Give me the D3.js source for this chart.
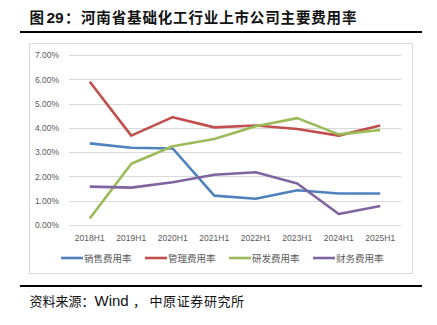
<!DOCTYPE html>
<html>
<head>
<meta charset="utf-8">
<script src="https://cdn.jsdelivr.net/npm/d3@7"></script>
<style>
  html, body { margin: 0; padding: 0; background: #fff; }
  svg { display: block; }
</style>
</head>
<body>
<div id="chart"></div>
<script>
// Half-year periods and expense ratios (%)
const periods = ["2018H1", "2019H1", "2020H1", "2021H1", "2022H1", "2023H1", "2024H1", "2025H1"];
const sellingRate = [3.36, 3.18, 3.15, 1.21, 1.08, 1.43, 1.30, 1.30];
const adminRate   = [5.90, 3.68, 4.44, 4.02, 4.10, 3.95, 3.68, 4.10];
const rdRate      = [0.27, 2.52, 3.24, 3.54, 4.07, 4.40, 3.73, 3.91];
const financeRate = [1.58, 1.54, 1.76, 2.07, 2.17, 1.71, 0.45, 0.78];
const seriesNames = ["销售费用率", "管理费用率", "研发费用率", "财务费用率"];
const yTicks = [0, 1, 2, 3, 4, 5, 6, 7];

const colors = ["#4F81BD", "#C0504D", "#9BBB59", "#8064A2"];
const series = [sellingRate, adminRate, rdRate, financeRate].map((v, i) => ({
  name: seriesNames[i], values: v, color: colors[i]
}));

const W = 437, H = 325;
const svg = d3.select("#chart").append("svg").attr("width", W).attr("height", H);

const cjk = "'Noto Sans CJK SC', 'Noto Sans', sans-serif";
const latin = "'Liberation Sans', Arial, sans-serif";

// Lay out a run of CJK characters one by one at a fixed advance
function spaced(parent, str, x0, y0, step, attrs) {
  const g = parent.append("g");
  g.selectAll("text").data(Array.from(str)).join("text")
    .attr("x", (c, i) => x0 + i * step)
    .attr("y", y0)
    .each(function () {
      const t = d3.select(this);
      Object.entries(attrs).forEach(([k, v]) => t.attr(k, v));
    })
    .text(c => c);
  return g;
}

// Title
const titleAttrs = { "font-family": cjk, "font-weight": "bold", "font-size": 14.5, "fill": "#111" };
spaced(svg, "图", 29.5, 23, 0, titleAttrs);
svg.append("text").attr("x", 46.5).attr("y", 23)
  .attr("font-family", latin).attr("font-weight", "bold").attr("font-size", 15.5).attr("fill", "#111")
  .text("29");
spaced(svg, "：", 65, 23, 0, titleAttrs);
spaced(svg, "河南省基础化工行业上市公司主要费用率", 81, 23, 15.35, titleAttrs);

// Rules above and below the chart
svg.append("line").attr("x1", 20).attr("x2", 422).attr("y1", 32).attr("y2", 32)
  .attr("stroke", "#000").attr("stroke-width", 2);
svg.append("line").attr("x1", 20).attr("x2", 422).attr("y1", 286).attr("y2", 286)
  .attr("stroke", "#000").attr("stroke-width", 2);

// Source note
const noteAttrs = { "font-family": cjk, "font-size": 13, "fill": "#111" };
spaced(svg, "资料来源：", 29.5, 306, 13.0, noteAttrs);
svg.append("text").attr("x", 94.5).attr("y", 306)
  .attr("font-family", latin).attr("font-size", 15).attr("fill", "#111")
  .text("Wind");
spaced(svg, "，", 133, 306, 0, noteAttrs);
spaced(svg, "中原证券研究所", 149.5, 306, 13.6, noteAttrs);

// Chart frame
svg.append("rect").attr("x", 29.5).attr("y", 43.5).attr("width", 383).attr("height", 230)
  .attr("fill", "none").attr("stroke", "#d9d9d9").attr("stroke-width", 1);

const x = d3.scaleBand().domain(periods).range([69, 401]);
const y = d3.scaleLinear().domain([0, 7]).range([225, 55]);

// Gridlines
svg.append("g").selectAll("line").data(yTicks).join("line")
  .attr("x1", 69).attr("x2", 401)
  .attr("y1", d => Math.round(y(d)) + 0.5).attr("y2", d => Math.round(y(d)) + 0.5)
  .attr("stroke", "#d9d9d9").attr("stroke-width", 1);

// Y axis labels
const yAxis = svg.append("g").attr("transform", "translate(62,0)")
  .call(d3.axisLeft(y).tickValues(yTicks).tickFormat(d => d.toFixed(2) + "%").tickSize(0).tickPadding(3));
yAxis.select(".domain").remove();
yAxis.selectAll("text").attr("font-family", latin).attr("font-size", 8.5).attr("fill", "#595959");

// X axis labels
const xAxis = svg.append("g").attr("transform", "translate(0,234.5)")
  .call(d3.axisBottom(x).tickSize(0).tickPadding(0));
xAxis.select(".domain").remove();
xAxis.selectAll("text").attr("font-family", latin).attr("font-size", 8.5).attr("fill", "#595959");

// Lines
const line = d3.line()
  .x((d, i) => x(periods[i]) + x.bandwidth() / 2)
  .y(d => y(d));
svg.append("g").selectAll("path").data(series).join("path")
  .attr("d", s => line(s.values))
  .attr("fill", "none")
  .attr("stroke", s => s.color)
  .attr("stroke-width", 2.6)
  .attr("stroke-linejoin", "round");

// Legend
const legend = svg.append("g").selectAll("g").data(series).join("g")
  .attr("transform", (d, i) => `translate(${61 + i * 84},258)`);
legend.append("line").attr("x1", 0).attr("x2", 22).attr("y1", 0).attr("y2", 0)
  .attr("stroke", d => d.color).attr("stroke-width", 2.6);
legend.append("text").attr("x", 23).attr("y", 3.5)
  .attr("font-family", cjk).attr("font-size", 9.5).attr("fill", "#595959")
  .text(d => d.name);
</script>
</body>
</html>
